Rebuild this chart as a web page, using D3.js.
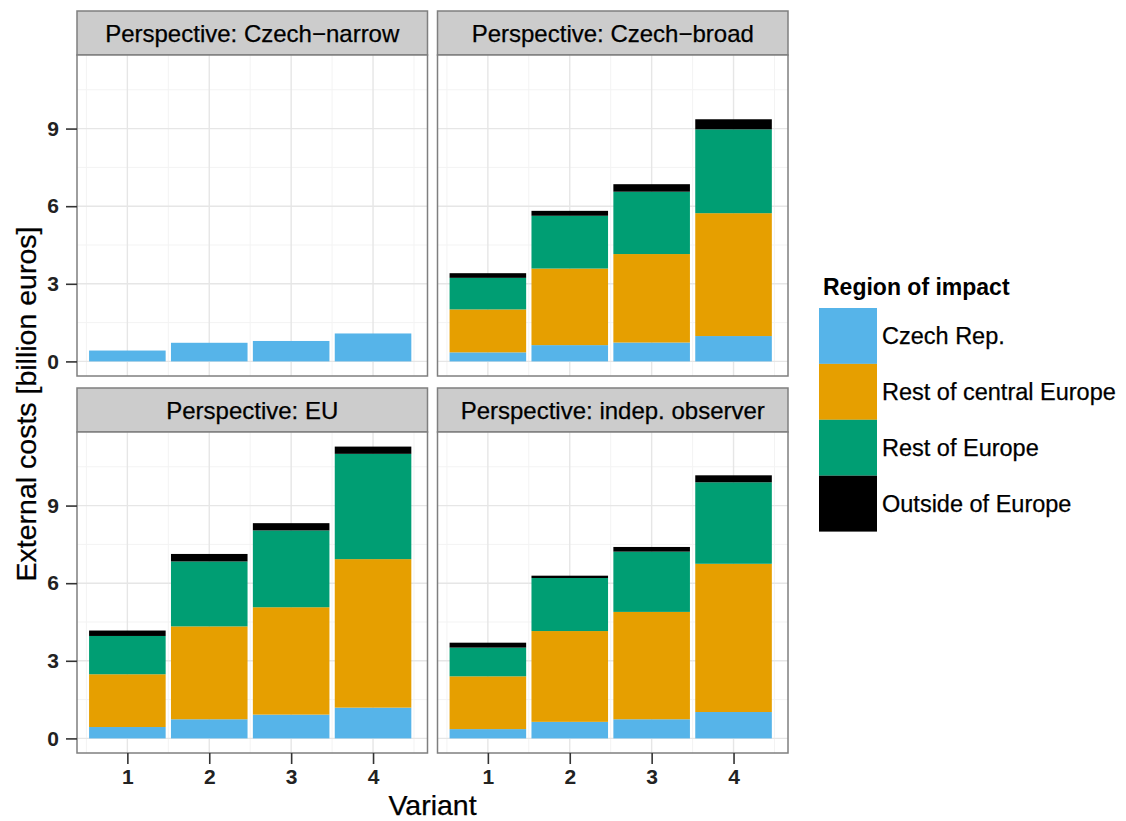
<!DOCTYPE html>
<html>
<head>
<meta charset="utf-8">
<script src="https://cdn.jsdelivr.net/npm/d3@7"></script>
<style>
  html, body { margin: 0; padding: 0; background: #ffffff; }
  svg { display: block; font-family: "Liberation Sans", Arial, Helvetica, sans-serif; }
</style>
</head>
<body>
<svg id="chart" width="1126" height="821"></svg>
<script>
// ---------------- data ----------------
const variants = ["1", "2", "3", "4"];
const perspectives = [
  "Perspective: Czech\u2212narrow",
  "Perspective: Czech\u2212broad",
  "Perspective: EU",
  "Perspective: indep. observer"
];
const regions = ["Czech Rep.", "Rest of central Europe", "Rest of Europe", "Outside of Europe"];
const regionColors = ["#56B4E9", "#E69F00", "#009E73", "#000000"];

// values per perspective (rows) and variant (columns), billion euros
const czechRepValues     = [[0.42, 0.72, 0.79, 1.08], [0.35, 0.63, 0.73, 0.98], [0.44, 0.74, 0.92, 1.19], [0.36, 0.64, 0.74, 1.02]];
const restCentralValues  = [[0, 0, 0, 0],             [1.66, 2.96, 3.42, 4.75], [2.04, 3.59, 4.15, 5.74], [2.04, 3.51, 4.15, 5.73]];
const restEuropeValues   = [[0, 0, 0, 0],             [1.22, 2.04, 2.41, 3.24], [1.48, 2.51, 2.97, 4.07], [1.11, 2.05, 2.33, 3.15]];
const outsideValues      = [[0, 0, 0, 0],             [0.18, 0.19, 0.29, 0.39], [0.21, 0.29, 0.28, 0.28], [0.19, 0.09, 0.18, 0.27]];

const yTicks = [0, 3, 6, 9];
const yMinor = [1.5, 4.5, 7.5, 10.5];
const xMinor = [0.5, 1.5, 2.5, 3.5, 4.5];

const yTitle = "External costs [billion euros]";
const xTitle = "Variant";
const legendTitle = "Region of impact";

// ---------------- layout ----------------
const svg = d3.select("#chart");
const FONT = '"Liberation Sans", Arial, Helvetica, sans-serif';
const plotLeft = 77, plotRight = 788, colGap = 10;
const panelW = (plotRight - plotLeft - colGap) / 2;
const top0 = 11, stripH = 44, panelH = 321, rowGap = 12;

const seriesTables = [czechRepValues, restCentralValues, restEuropeValues, outsideValues];
const keys = regions;

// max of totals (for shared scale)
let maxTotal = 0;
perspectives.forEach((p, pi) => variants.forEach((v, vi) => {
  const t = seriesTables.reduce((s, tab) => s + tab[pi][vi], 0);
  if (t > maxTotal) maxTotal = t;
}));
const yExp = maxTotal * 0.05;

const x = d3.scaleLinear().domain([0.385, 4.665]).range([0, panelW]);
const y = d3.scaleLinear().domain([-yExp, maxTotal + yExp]).range([panelH, 0]);
const barW = 0.935;

perspectives.forEach((pName, pi) => {
  const col = pi % 2, row = Math.floor(pi / 2);
  const px = plotLeft + col * (panelW + colGap);
  const stripY = top0 + row * (stripH + panelH + rowGap);
  const py = stripY + stripH;

  // strip
  svg.append("rect").attr("x", px).attr("y", stripY).attr("width", panelW).attr("height", stripH)
    .attr("fill", "#cccccc").attr("stroke", "#7f7f7f").attr("stroke-width", 1.5);
  svg.append("text").attr("x", px + panelW / 2).attr("y", stripY + stripH / 2).attr("dy", "0.36em")
    .attr("text-anchor", "middle").attr("font-size", 24).attr("fill", "#000")
    .attr("stroke", "#000").attr("stroke-width", 0.25)
    .text(pName);

  const g = svg.append("g").attr("transform", `translate(${px},${py})`);
  g.append("rect").attr("width", panelW).attr("height", panelH).attr("fill", "#ffffff");

  // minor grid
  g.selectAll(".ymin").data(yMinor).enter().append("line")
    .attr("x1", 0).attr("x2", panelW).attr("y1", d => y(d)).attr("y2", d => y(d))
    .attr("stroke", "#f3f3f3").attr("stroke-width", 1);
  g.selectAll(".xmin").data(xMinor).enter().append("line")
    .attr("y1", 0).attr("y2", panelH).attr("x1", d => x(d)).attr("x2", d => x(d))
    .attr("stroke", "#f3f3f3").attr("stroke-width", 1);
  // major grid
  g.selectAll(".ymaj").data(yTicks).enter().append("line")
    .attr("x1", 0).attr("x2", panelW).attr("y1", d => y(d)).attr("y2", d => y(d))
    .attr("stroke", "#e6e6e6").attr("stroke-width", 1.4);
  g.selectAll(".xmaj").data(variants).enter().append("line")
    .attr("y1", 0).attr("y2", panelH).attr("x1", d => x(+d)).attr("x2", d => x(+d))
    .attr("stroke", "#e6e6e6").attr("stroke-width", 1.4);

  // stacked bars
  const rowsData = variants.map((v, vi) => {
    const o = { variant: +v };
    keys.forEach((k, ki) => { o[k] = seriesTables[ki][pi][vi]; });
    return o;
  });
  const stacked = d3.stack().keys(keys)(rowsData);
  stacked.forEach((layer, li) => {
    g.selectAll(null).data(layer.filter(d => d[1] - d[0] > 0)).enter().append("rect")
      .attr("x", d => x(d.data.variant - barW / 2))
      .attr("width", d => x(d.data.variant + barW / 2) - x(d.data.variant - barW / 2))
      .attr("y", d => y(d[1]))
      .attr("height", d => y(d[0]) - y(d[1]))
      .attr("fill", regionColors[li]);
  });

  // border
  g.append("rect").attr("width", panelW).attr("height", panelH)
    .attr("fill", "none").attr("stroke", "#7f7f7f").attr("stroke-width", 1.5);

  // axes
  if (col === 0) {
    const ay = g.append("g").call(d3.axisLeft(y).tickValues(yTicks).tickSize(11).tickPadding(7).tickFormat(d3.format("d")));
    ay.select(".domain").remove();
    ay.selectAll("line").attr("stroke", "#333").attr("stroke-width", 1.6);
    ay.selectAll("text").attr("font-family", FONT).attr("font-size", 21).attr("font-weight", "bold").attr("fill", "#222");
  }
  if (row === 1) {
    const ax = g.append("g").attr("transform", `translate(0,${panelH})`)
      .call(d3.axisBottom(x).tickValues(variants.map(Number)).tickSize(11).tickPadding(5).tickFormat(d3.format("d")));
    ax.select(".domain").remove();
    ax.selectAll("line").attr("stroke", "#333").attr("stroke-width", 1.6);
    ax.selectAll("text").attr("font-family", FONT).attr("font-size", 21).attr("font-weight", "bold").attr("fill", "#222");
  }
});

// axis titles
const panelsTop = top0 + stripH;
const panelsBottom = top0 + 2 * (stripH + panelH) + rowGap;
svg.append("text")
  .attr("transform", `translate(36,${(panelsTop + panelsBottom) / 2}) rotate(-90)`)
  .attr("text-anchor", "middle").attr("font-size", 28.5).attr("fill", "#000")
  .attr("stroke", "#000").attr("stroke-width", 0.25)
  .text(yTitle);
svg.append("text")
  .attr("x", (plotLeft + plotRight) / 2).attr("y", 815)
  .attr("text-anchor", "middle").attr("font-size", 28.5).attr("fill", "#000")
  .attr("stroke", "#000").attr("stroke-width", 0.25)
  .text(xTitle);

// legend
const lg = svg.append("g").attr("transform", "translate(819,0)");
lg.append("text").attr("x", 4).attr("y", 295).attr("font-size", 23).attr("font-weight", "bold").attr("fill", "#000")
  .text(legendTitle);
const keyTop = 308, keyH = 55.9, keyW = 58;
regions.forEach((r, i) => {
  lg.append("rect").attr("x", 0).attr("y", keyTop + i * keyH).attr("width", keyW).attr("height", keyH)
    .attr("fill", regionColors[i]);
  lg.append("text").attr("x", 63).attr("y", keyTop + i * keyH + keyH / 2).attr("dy", "0.36em")
    .attr("font-size", 23.5).attr("fill", "#000").attr("stroke", "#000").attr("stroke-width", 0.25).text(r);
});
</script>
</body>
</html>
